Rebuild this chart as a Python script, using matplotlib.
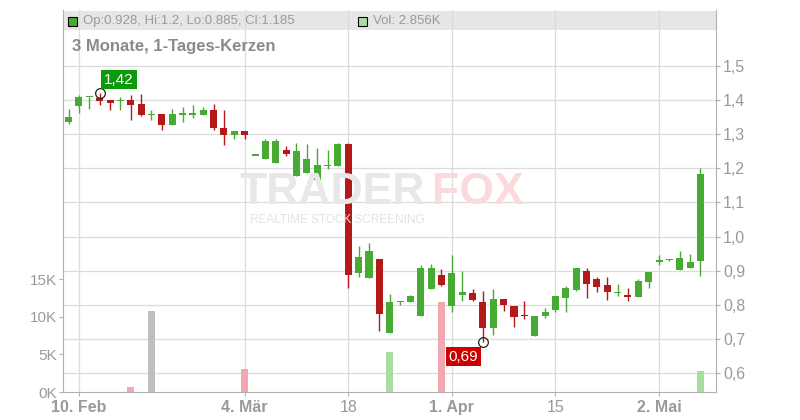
import matplotlib
matplotlib.use("Agg")
import matplotlib.pyplot as plt
import matplotlib.patches as mpatches
import numpy as np
import pandas as pd

plt.rcParams['font.family'] = ['Liberation Sans', 'DejaVu Sans']

# ---- data ----
# trading days 7 Feb - 8 May 2025, German calendar
holidays = ["2025-04-18", "2025-04-21", "2025-05-01"]
days = pd.bdate_range("2025-02-07", "2025-05-08", freq="C", holidays=holidays)

opens = [1.336, 1.383, 1.409, 1.407, 1.400, 1.397, 1.400, 1.388, 1.356, 1.359,
         1.327, 1.358, 1.358, 1.357, 1.371, 1.320, 1.299, 1.309, 1.237, 1.227,
         1.216, 1.253, 1.177, 1.186, 1.166, 1.207, 1.208, 1.271, 0.892, 0.878,
         0.935, 0.716, 0.807, 0.807, 0.766, 0.845, 0.888, 0.795, 0.830, 0.835,
         0.809, 0.733, 0.818, 0.797, 0.771, 0.707, 0.766, 0.785, 0.819, 0.844,
         0.900, 0.876, 0.859, 0.834, 0.829, 0.824, 0.868, 0.924, 0.931, 0.901,
         0.909, 0.928]
highs = [1.373, 1.416, 1.410, 1.420, 1.400, 1.410, 1.415, 1.418, 1.371, 1.359,
         1.373, 1.379, 1.385, 1.379, 1.388, 1.371, 1.309, 1.309, 1.237, 1.285,
         1.285, 1.265, 1.274, 1.271, 1.260, 1.253, 1.274, 1.274, 0.971, 0.980,
         0.935, 0.833, 0.812, 0.829, 0.918, 0.921, 0.906, 0.947, 0.900, 0.847,
         0.841, 0.847, 0.818, 0.797, 0.812, 0.768, 0.790, 0.826, 0.856, 0.909,
         0.909, 0.882, 0.882, 0.862, 0.850, 0.876, 0.897, 0.947, 0.935, 0.959,
         0.950, 1.200]
lows = [1.329, 1.362, 1.373, 1.385, 1.371, 1.371, 1.341, 1.353, 1.341, 1.312,
        1.327, 1.335, 1.348, 1.357, 1.312, 1.268, 1.285, 1.285, 1.237, 1.227,
        1.216, 1.236, 1.177, 1.186, 1.166, 1.199, 1.208, 0.848, 0.880, 0.878,
        0.724, 0.716, 0.798, 0.807, 0.766, 0.845, 0.854, 0.780, 0.810, 0.810,
        0.690, 0.711, 0.783, 0.736, 0.757, 0.707, 0.762, 0.780, 0.780, 0.841,
        0.821, 0.836, 0.813, 0.825, 0.810, 0.824, 0.848, 0.918, 0.927, 0.901,
        0.909, 0.885]
closes = [1.350, 1.410, 1.410, 1.398, 1.392, 1.398, 1.385, 1.357, 1.357, 1.327,
          1.359, 1.359, 1.359, 1.371, 1.319, 1.298, 1.309, 1.299, 1.237, 1.279,
          1.279, 1.241, 1.250, 1.229, 1.209, 1.208, 1.271, 0.886, 0.939, 0.959,
          0.774, 0.809, 0.812, 0.826, 0.909, 0.909, 0.857, 0.894, 0.838, 0.813,
          0.733, 0.818, 0.798, 0.763, 0.766, 0.768, 0.779, 0.826, 0.850, 0.909,
          0.860, 0.851, 0.836, 0.835, 0.824, 0.871, 0.897, 0.932, 0.932, 0.938,
          0.924, 1.185]
# volume in thousands, only a few days traded
volume_k = [0.0] * 62
volume_k[6] = 0.7
volume_k[8] = 10.85
volume_k[17] = 3.1
volume_k[31] = 5.3
volume_k[36] = 12.0
volume_k[61] = 2.856

tick_days = ["2025-02-10", "2025-03-04", "2025-03-18", "2025-04-01", "2025-04-15", "2025-05-02"]
tick_labels = ["10. Feb", "4. Mär", "18", "1. Apr", "15", "2. Mai"]
tick_bold = [True, True, False, True, False, True]

price_ticks = [0.6, 0.7, 0.8, 0.9, 1.0, 1.1, 1.2, 1.3, 1.4, 1.5]
vol_ticks = [0, 5, 10, 15]

# ---- styles ----
GREEN = "#47ab33"
RED = "#b41818"
VOL_GREEN = "#a8dca0"
VOL_RED = "#f0a9b1"
VOL_GRAY = "#bfbfbf"
GRID = "#dcdcdc"
TXT = "#9a9a9a"
SPINE = "#b0b0b0"

x = np.arange(len(days))
o = np.array(opens); h = np.array(highs); l = np.array(lows); c = np.array(closes)
up = c >= o
cols = np.where(up, GREEN, RED)

fig = plt.figure(figsize=(8, 4.2), dpi=100)
ax = fig.add_axes([63 / 800, 28 / 420, 653 / 800, 382 / 420])
ax.set_axisbelow(True)

# header band
ax.add_patch(mpatches.Rectangle((0, 0.948), 1, 0.049, transform=ax.transAxes,
                                facecolor="#e6e6e6", edgecolor="none", zorder=0.2))

# candles
ax.vlines(x, l, h, colors=cols, lw=1.0, zorder=2)
body = np.maximum(np.abs(c - o), 0.004)
ax.bar(x, body, bottom=np.minimum(o, c), width=0.68, color=cols, zorder=3)

ax.set_xlim(-0.54, 62.5)
ax.set_ylim(0.5441, 1.6647)
ax.set_yticks(price_ticks)
ax.set_yticklabels([f"{v:.1f}".replace(".", ",") for v in price_ticks])
ax.grid(True, color=GRID, lw=0.9)

tick_pos = [days.get_loc(pd.Timestamp(d)) for d in tick_days]
ax.set_xticks(tick_pos)
ax.set_xticklabels(tick_labels)
for lab, b in zip(ax.get_xticklabels(), tick_bold):
    lab.set_fontweight("bold" if b else "normal")

# volume on the left scale
axv = ax.twinx()
axv.patch.set_visible(False)
prev = np.concatenate([[c[0]], c[:-1]])
vcols = np.where(c > prev, VOL_GREEN, np.where(c < prev, VOL_RED, VOL_GRAY))
axv.bar(x, volume_k, width=0.68, color=vcols, zorder=2)
axv.set_ylim(0, 50.93)
axv.set_yticks(vol_ticks)
axv.set_yticklabels([f"{v}K" for v in vol_ticks])
axv.yaxis.tick_left()
axv.tick_params(axis="y", colors=SPINE, labelcolor=TXT, labelsize=11, length=3, pad=1)
for s in ["top", "right", "bottom"]:
    axv.spines[s].set_visible(False)
axv.spines["left"].set_color(SPINE)

# price scale on the right (after twinx, which moves it left)
ax.yaxis.tick_right()
ax.tick_params(axis="y", colors=SPINE, labelcolor=TXT, labelsize=11.5, length=3, pad=2)
ax.tick_params(axis="x", colors=SPINE, labelcolor=TXT, labelsize=11.5, length=3, pad=3)
for s in ["top", "left"]:
    ax.spines[s].set_visible(False)
for s in ["right", "bottom"]:
    ax.spines[s].set_visible(True)
    ax.spines[s].set_color(SPINE)

# high / low markers
ax.plot(3, 1.42, "o", ms=7, mfc="none", mec="#222222", mew=0.9, zorder=5)
ax.annotate("1,42", (3, 1.42), xytext=(13.9, 9.9), textcoords="offset points",
            ha="center", va="center", color="white", fontsize=11, zorder=6,
            bbox=dict(boxstyle="square,pad=0.18", fc="#0a9a0a", ec="none"))
ax.plot(40, 0.69, "o", ms=7, mfc="none", mec="#222222", mew=0.9, zorder=5)
ax.annotate("0,69", (40, 0.69), xytext=(-14.3, -10.3), textcoords="offset points",
            ha="center", va="center", color="white", fontsize=11, zorder=6,
            bbox=dict(boxstyle="square,pad=0.18", fc="#cc0000", ec="none"))

# header texts
fig.add_artist(mpatches.Rectangle((68 / 800, 1 - 26 / 420), 9 / 800, 9 / 420,
                                  facecolor=GREEN, edgecolor="black", lw=0.8))
fig.text(83 / 800, 1 - 21 / 420,
         f"Op:{opens[-1]:g}, Hi:{highs[-1]:g}, Lo:{lows[-1]:g}, Cl:{closes[-1]:g}",
         color=TXT, fontsize=9.5, va="center", ha="left")
fig.add_artist(mpatches.Rectangle((358 / 800, 1 - 26 / 420), 9 / 800, 9 / 420,
                                  facecolor=VOL_GREEN, edgecolor="black", lw=0.8))
fig.text(373 / 800, 1 - 21 / 420, f"Vol: {volume_k[-1]:.3f}K",
         color=TXT, fontsize=9.5, va="center", ha="left")
fig.text(72 / 800, 1 - 47 / 420, "3 Monate, 1-Tages-Kerzen", color="#8a8a8a",
         fontsize=12, fontweight="bold", va="center", ha="left")

# watermark
fig.text(240 / 800, 1 - 213 / 420, "TRADER", color="#e8e8e8", fontsize=32,
         fontweight="bold", ha="left", va="bottom", zorder=0)
fig.text(432 / 800, 1 - 213 / 420, "FOX", color="#fcd9dc", fontsize=32,
         fontweight="bold", ha="left", va="bottom", zorder=0)
fig.text(250 / 800, 1 - 220 / 420, "REALTIME STOCK SCREENING", color="#e2e2e2",
         fontsize=8.5, ha="left", va="center", zorder=0)

plt.savefig("out.png", dpi=100)
